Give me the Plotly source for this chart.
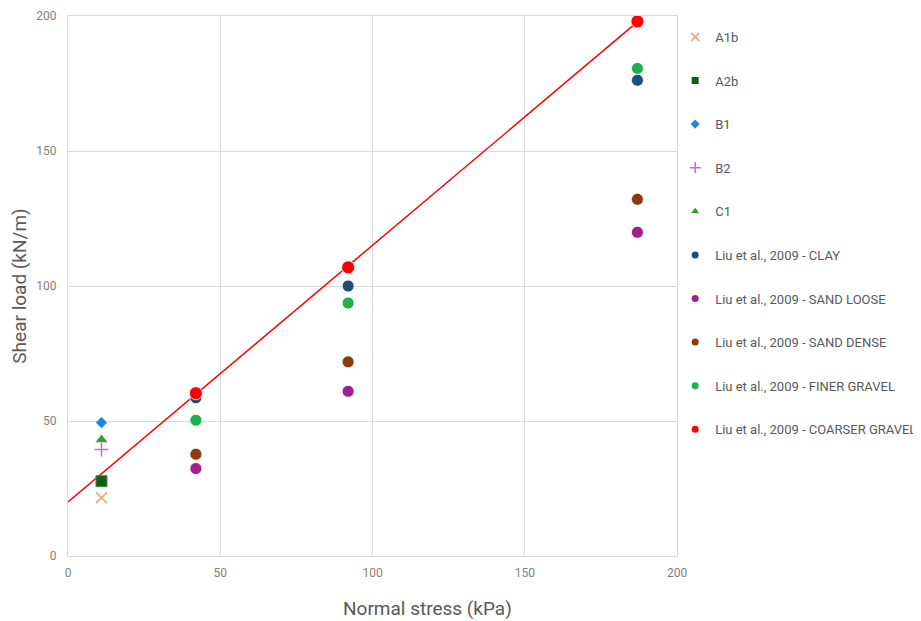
import numpy as np
import plotly.graph_objects as go

# ---- data ----
x_single = [11]
a1b_y = [21.6]
a2b_y = [27.7]
b1_y = [49.4]
b2_y = [39.4]
c1_y = [43.1]

liu_x = [42, 92, 187]
clay_y = [58.6, 100.0, 176.2]
sand_loose_y = [32.4, 61.0, 119.9]
sand_dense_y = [37.7, 71.9, 132.1]
finer_gravel_y = [50.3, 93.7, 180.6]
coarser_gravel_y = [60.3, 106.9, 198.0]

x_ticks = [0, 50, 100, 150, 200]
y_ticks = [0, 50, 100, 150, 200]

# ---- styles ----
series = [
    ("A1b", x_single, a1b_y, dict(symbol="x-thin", size=11, color="#F4A47C", line=dict(width=1.6, color="#F4A47C")), 8),
    ("A2b", x_single, a2b_y, dict(symbol="square", size=11, color="#135E1A", line=dict(width=1, color="#3F8A45")), 7),
    ("B1", x_single, b1_y, dict(symbol="diamond", size=9, color="#1E86E0", line=dict(width=0.5, color="#ffffff")), 7),
    ("B2", x_single, b2_y, dict(symbol="cross-thin", size=10, color="#C86CC4", line=dict(width=1.5, color="#C86CC4")), 8),
    ("C1", x_single, c1_y, dict(symbol="triangle-up", size=11, color="#3A9A2C", line=dict(width=0.5, color="#ffffff")), 7),
    ("Liu et al., 2009 - CLAY", liu_x, clay_y, dict(symbol="circle", size=12, color="#1D4F7C", line=dict(width=0.8, color="#ffffff")), 7),
    ("Liu et al., 2009 - SAND LOOSE", liu_x, sand_loose_y, dict(symbol="circle", size=12, color="#A0208E", line=dict(width=0.8, color="#ffffff")), 7),
    ("Liu et al., 2009 - SAND DENSE", liu_x, sand_dense_y, dict(symbol="circle", size=12, color="#8A3A0C", line=dict(width=0.8, color="#ffffff")), 7),
    ("Liu et al., 2009 - FINER GRAVEL", liu_x, finer_gravel_y, dict(symbol="circle", size=12, color="#1DB04E", line=dict(width=0.8, color="#ffffff")), 7),
]

fig = go.Figure()

# trend line through coarser gravel data
slope, intercept = np.polyfit(liu_x, coarser_gravel_y, 1)
trend_x = np.array([0, max(liu_x)])
fig.add_trace(go.Scatter(x=trend_x, y=slope * trend_x + intercept, mode="lines",
                         line=dict(color="#FF0000", width=1.5), showlegend=False, hoverinfo="skip"))

for i, (name, xs, ys, mk, lsize) in enumerate(series):
    fig.add_trace(go.Scatter(x=xs, y=ys, mode="markers", marker=mk, name=name, showlegend=False))

fig.add_trace(go.Scatter(x=liu_x, y=coarser_gravel_y, mode="markers",
                         marker=dict(symbol="circle", size=13, color="#FF0000", line=dict(width=0.8, color="#ffffff")),
                         name="Liu et al., 2009 - COARSER GRAVEL", showlegend=False))

# legend entries (smaller symbols, like the reference)
legend_items = series + [("Liu et al., 2009 - COARSER GRAVEL", liu_x, coarser_gravel_y,
                          dict(symbol="circle", size=12, color="#FF0000"), 7)]
for i, (name, xs, ys, mk, lsize) in enumerate(legend_items):
    lm = dict(mk)
    lm["size"] = lsize
    if "line" in lm and lm["symbol"] not in ("x-thin", "cross-thin"):
        lm["line"] = dict(width=0)
    fig.add_trace(go.Scatter(x=[None], y=[None], mode="markers", marker=lm, name=name,
                             legendgroup="g%d" % i, showlegend=True))

grid = "#D9D9D9"
fam = "Roboto, Noto Sans, sans-serif"
tick_font = dict(family=fam, size=12, color="#7F7F7F")

fig.update_layout(
    width=913, height=613,
    paper_bgcolor="white", plot_bgcolor="white",
    margin=dict(l=60, r=244, t=8, b=65, autoexpand=False),
    font=dict(family=fam, color="#595959"),
    xaxis=dict(range=[0, 200], tickvals=x_ticks, showgrid=True, gridcolor=grid, gridwidth=1,
               showline=True, linecolor=grid, mirror=True, zeroline=False,
               tickfont=tick_font, ticks="", ticklabelstandoff=6),
    yaxis=dict(range=[0, 200], tickvals=y_ticks, showgrid=True, gridcolor=grid, gridwidth=1,
               showline=True, linecolor=grid, mirror=True, zeroline=False,
               tickfont=tick_font, ticks="", ticklabelstandoff=8,
               title=dict(text="Shear load (kN/m)", font=dict(family=fam, size=19, color="#595959"), standoff=11)),
    legend=dict(x=0.997, y=0.989, xanchor="left", yanchor="top", tracegroupgap=23.7,
                font=dict(family=fam, size=13, color="#595959"),
                bgcolor="rgba(0,0,0,0)"),
    annotations=[dict(text="Normal stress (kPa)", xref="paper", yref="paper", x=0.591, y=-0.098,
                      xanchor="center", yanchor="middle", showarrow=False,
                      font=dict(family=fam, size=19, color="#595959"))],
)

fig.write_html("out.html")
